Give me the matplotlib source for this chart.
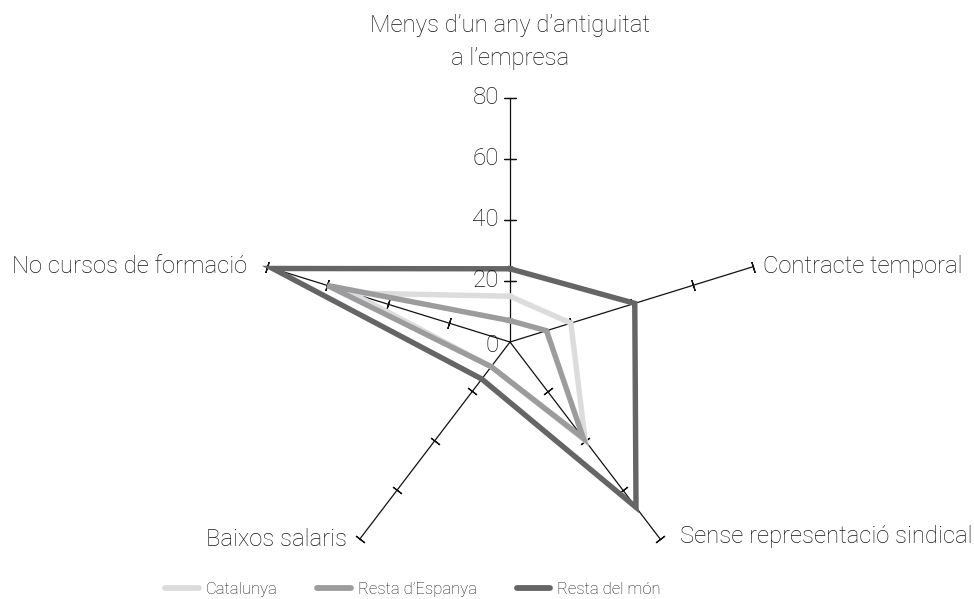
import numpy as np
import matplotlib
matplotlib.use('Agg')
import matplotlib.pyplot as plt

# --- Data: share of workers (%) per condition, by origin ---
axes_labels = ['Menys d\u2019un any d\u2019antiguitat\na l\u2019empresa',
               'Contracte temporal',
               'Sense representaci\u00f3 sindical',
               'Baixos salaris',
               'No cursos de formaci\u00f3']
series_names = ['Catalunya', 'Resta d\u2019Espanya', 'Resta del m\u00f3n']
catalunya = [15, 20, 40, 10, 52]
resta_espanya = [7, 12, 39, 10, 60]
resta_mon = [24, 41, 67, 15, 78]
ticks = [0, 20, 40, 60, 80]

colors = ['#dcdcdc', '#9c9c9e', '#656565']
text_col = '#151515'
plt.rcParams['font.family'] = ['Roboto', 'DejaVu Sans']
fw = 'light'
lab_fs = 17.2

# axis directions, clockwise from top
theta = np.deg2rad(90 - 72 * np.arange(5))
rmax = ticks[-1]

# pixel scale per unit (x slightly wider than y)
W, H = 974, 599
cx, cy = 510, 342
sx, sy = 3.2, 3.05

fig = plt.figure(figsize=(W / 100, H / 100), dpi=100)
ax = fig.add_axes([0, 0, 1, 1])
ax.set_xlim(-cx / sx, (W - cx) / sx)
ax.set_ylim(-(H - cy) / sy, cy / sy)
ax.axis('off')

# spokes with ticks
for th in theta:
    ax.plot([0, rmax * np.cos(th)], [0, rmax * np.sin(th)], color='#111111', lw=0.9, zorder=1)
    phi = np.degrees(np.arctan2(np.sin(th) * sy, np.cos(th) * sx))
    tv = np.array(ticks[1:])
    ax.plot(tv * np.cos(th), tv * np.sin(th), ls='none', marker=(2, 2, phi),
            ms=8, mew=0.9, mec='#111111', zorder=1)

# value labels on the top axis
for t in ticks:
    ax.text(-11 / sx, t - (1 if t == 0 else 0), str(t), ha='right', va='center',
            fontsize=17.5, color=text_col, fontweight=fw)

# series polygons
for vals, col, name in zip([catalunya, resta_espanya, resta_mon], colors, series_names):
    v = np.array(vals + vals[:1], dtype=float)
    th = np.append(theta, theta[0])
    ax.plot(v * np.cos(th), v * np.sin(th), color=col, lw=3.9, label=name,
            solid_joinstyle='miter', zorder=2)

# category labels
ax.text(0, 98.5, axes_labels[0], ha='center', va='center', fontsize=lab_fs,
        color=text_col, fontweight=fw, linespacing=1.55)
ax.text(rmax * np.cos(theta[1]) + 3, rmax * np.sin(theta[1]), axes_labels[1],
        ha='left', va='center', fontsize=lab_fs, color=text_col, fontweight=fw)
ax.text(rmax * np.cos(theta[2]) + 6, rmax * np.sin(theta[2]) + 1, axes_labels[2],
        ha='left', va='center', fontsize=lab_fs, color=text_col, fontweight=fw)
ax.text(rmax * np.cos(theta[3]) - 4, rmax * np.sin(theta[3]), axes_labels[3],
        ha='right', va='center', fontsize=lab_fs, color=text_col, fontweight=fw)
ax.text(rmax * np.cos(theta[4]) - 6, rmax * np.sin(theta[4]), axes_labels[4],
        ha='right', va='center', fontsize=lab_fs, color=text_col, fontweight=fw)

leg = ax.legend(loc='center', bbox_to_anchor=(0.424, 0.016), ncol=3, frameon=False,
                handlelength=2.0, handletextpad=0.42, columnspacing=2.4,
                prop={'size': 12, 'weight': fw})
for line in leg.get_lines():
    line.set_linewidth(4.2)
    line.set_solid_capstyle('round')
for t in leg.get_texts():
    t.set_color(text_col)

fig.savefig('out.png', dpi=100)
